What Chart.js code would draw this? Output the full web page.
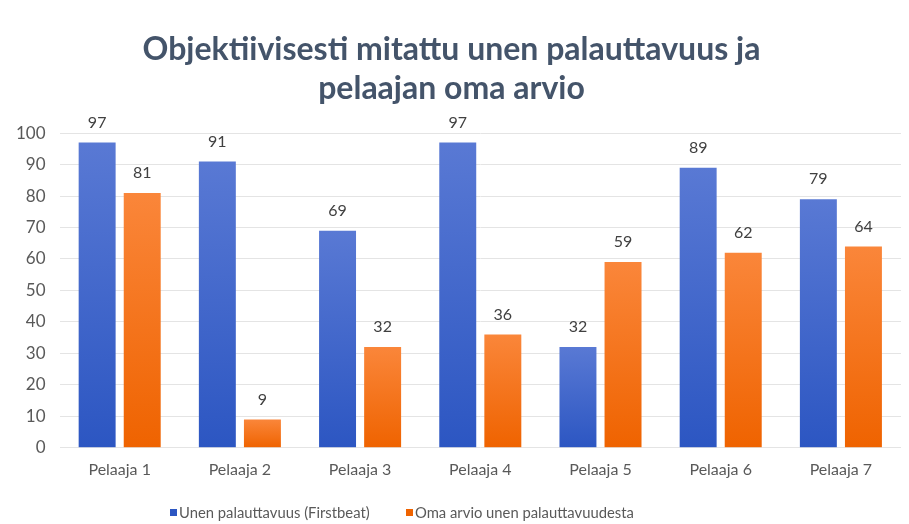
<!DOCTYPE html>
<html>
<head>
<meta charset="utf-8" />
<title>Objektiivisesti mitattu unen palauttavuus</title>
<script src="https://cdn.jsdelivr.net/npm/chart.js@4/dist/chart.umd.min.js"></script>
<style>
  html, body { margin: 0; padding: 0; background: #fff; }
  #wrap { width: 909px; height: 524px; }
</style>
</head>
<body>
<div id="wrap"><canvas id="chart"></canvas></div>
<script>
  // data
  var players = ['Pelaaja 1', 'Pelaaja 2', 'Pelaaja 3', 'Pelaaja 4', 'Pelaaja 5', 'Pelaaja 6', 'Pelaaja 7'];
  var firstbeat = [97, 91, 69, 97, 32, 89, 79];
  var ownEstimate = [81, 9, 32, 36, 59, 62, 64];
  var seriesNames = ['Unen palauttavuus (Firstbeat)', 'Oma arvio unen palauttavuudesta'];
  var titleLines = ['Objektiivisesti mitattu unen palauttavuus ja', 'pelaajan oma arvio'];

  var FONT = 'Lato, "Open Sans", sans-serif';

  // gradient per bar, light at the top, dark at the bottom
  function barGradient(top, bottom) {
    return function (c) {
      var chart = c.chart;
      if (!chart.chartArea || !chart.scales.y || c.raw === undefined) return bottom;
      var y = chart.scales.y;
      var y0 = y.getPixelForValue(0);
      var y1 = y.getPixelForValue(c.raw);
      if (!isFinite(y0) || !isFinite(y1) || y0 === y1) return bottom;
      var g = chart.ctx.createLinearGradient(0, y1, 0, y0);
      g.addColorStop(0, top);
      g.addColorStop(1, bottom);
      return g;
    };
  }

  var blueTop = '#5979d4', blueBot = '#2c56c2';
  var orangeTop = '#fa863a', orangeBot = '#ef6300';

  // values above the bars
  var valueLabels = {
    id: 'valueLabels',
    afterDatasetsDraw: function (chart) {
      var ctx = chart.ctx;
      ctx.save();
      ctx.font = '16px ' + FONT;
      ctx.fillStyle = '#404040';
      ctx.textAlign = 'center';
      ctx.textBaseline = 'middle';
      chart.data.datasets.forEach(function (ds, i) {
        chart.getDatasetMeta(i).data.forEach(function (bar, j) {
          ctx.fillText(ds.data[j], bar.x, bar.y - 20);
        });
      });
      ctx.restore();
    }
  };

  // bottom legend, spaced like the original
  var bottomLegend = {
    id: 'bottomLegend',
    afterDraw: function (chart) {
      var ctx = chart.ctx;
      var items = [
        { text: seriesNames[0], color: blueBot, x: 170 },
        { text: seriesNames[1], color: orangeBot, x: 406 }
      ];
      var y = 513;
      ctx.save();
      ctx.font = '14.8px ' + FONT;
      ctx.textBaseline = 'middle';
      ctx.textAlign = 'left';
      items.forEach(function (it) {
        ctx.fillStyle = it.color;
        ctx.fillRect(it.x, y - 4, 7, 7);
        ctx.fillStyle = '#595959';
        ctx.fillText(it.text, it.x + 9, y);
      });
      ctx.restore();
    }
  };

  new Chart(document.getElementById('chart'), {
    type: 'bar',
    data: {
      labels: players,
      datasets: [
        {
          label: seriesNames[0],
          data: firstbeat,
          backgroundColor: barGradient(blueTop, blueBot),
          categoryPercentage: 0.75,
          barPercentage: 0.82
        },
        {
          label: seriesNames[1],
          data: ownEstimate,
          backgroundColor: barGradient(orangeTop, orangeBot),
          categoryPercentage: 0.75,
          barPercentage: 0.82
        }
      ]
    },
    plugins: [valueLabels, bottomLegend],
    options: {
      responsive: true,
      maintainAspectRatio: false,
      animation: false,
      layout: { padding: { top: 0, left: 2, right: 8, bottom: 33 } },
      plugins: {
        legend: { display: false },
        tooltip: { enabled: false },
        title: {
          display: true,
          text: titleLines,
          color: '#44546a',
          font: { family: FONT, size: 32, weight: 'bold', lineHeight: 1.22 },
          padding: { top: 30, bottom: 25 }
        }
      },
      scales: {
        x: {
          grid: { display: false, drawTicks: false },
          border: { display: false },
          ticks: { color: '#595959', font: { family: FONT, size: 16 }, padding: 12 }
        },
        y: {
          min: 0,
          max: 100,
          ticks: { stepSize: 10, color: '#595959', font: { family: FONT, size: 17 }, padding: 14 },
          grid: { color: '#e4e4e4', drawTicks: false },
          border: { display: false }
        }
      }
    }
  });
</script>
</body>
</html>
